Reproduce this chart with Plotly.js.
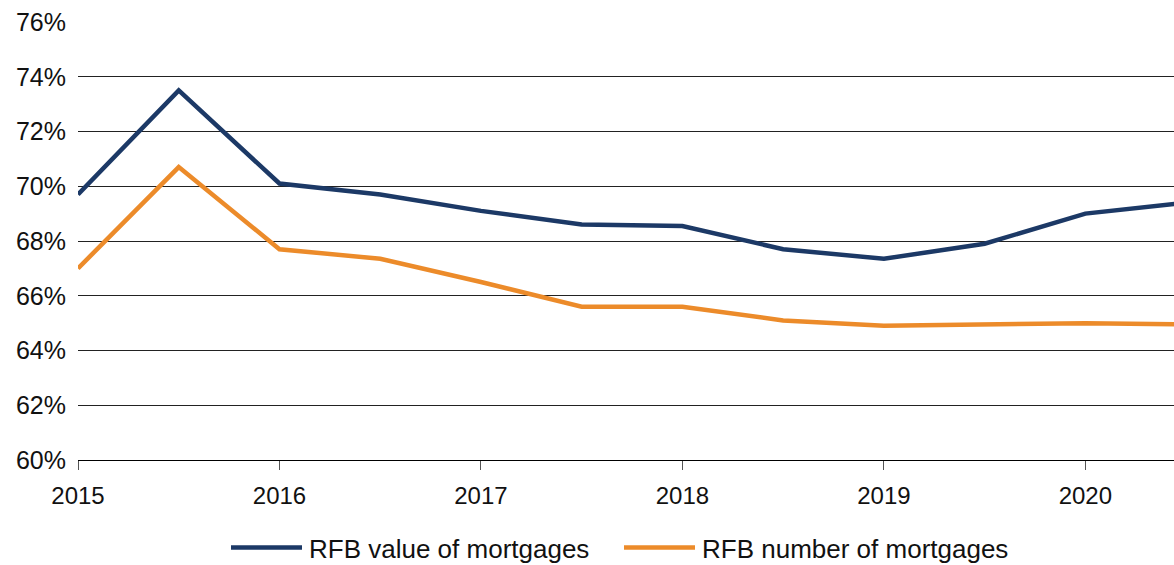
<!DOCTYPE html>
<html>
<head>
<meta charset="utf-8">
<script src="https://cdn.plot.ly/plotly-3.0.1.min.js"></script>
<style>
  html, body { margin: 0; padding: 0; background: #fff; }
  #chart { width: 1174px; height: 565px; }
</style>
</head>
<body>
<div id="chart"></div>
<script>
// Half-yearly observations (decimal years)
const periods = [2015.0, 2015.5, 2016.0, 2016.5, 2017.0, 2017.5, 2018.0, 2018.5, 2019.0, 2019.5, 2020.0, 2020.5];
// Ring-fenced bank share, percent
const valueOfMortgages  = [69.7, 73.5, 70.1, 69.7, 69.1, 68.6, 68.55, 67.7, 67.35, 67.9, 69.0, 69.4];
const numberOfMortgages = [67.0, 70.7, 67.7, 67.35, 66.5, 65.6, 65.6, 65.1, 64.9, 64.93, 65.0, 64.95];
const yearTicks = [2015, 2016, 2017, 2018, 2019, 2020];
const yearLabels = ['2015', '2016', '2017', '2018', '2019', '2020'];
const pctTicks = [60, 62, 64, 66, 68, 70, 72, 74, 76];
const pctLabels = ['60%', '62%', '64%', '66%', '68%', '70%', '72%', '74%', '76%'];
const seriesNames = ['RFB value of mortgages', 'RFB number of mortgages'];

const FONT = 'Liberation Sans, Arial, Helvetica, sans-serif';

const traces = [
  {
    x: periods, y: valueOfMortgages, name: seriesNames[0],
    type: 'scatter', mode: 'lines',
    line: { color: '#1C3966', width: 4.5 },
    cliponaxis: true
  },
  {
    x: periods, y: numberOfMortgages, name: seriesNames[1],
    type: 'scatter', mode: 'lines',
    line: { color: '#EC8B2A', width: 4.5 },
    cliponaxis: true
  }
];

const layout = {
  width: 1174, height: 565,
  margin: { l: 78, r: 0, t: 22, b: 105 },
  paper_bgcolor: '#fff', plot_bgcolor: '#fff',
  font: { family: FONT, size: 24, color: '#111' },
  showlegend: true,
  legend: {
    orientation: 'h',
    xref: 'container', x: 229 / 1174, xanchor: 'left',
    yref: 'container', y: 0.031, yanchor: 'middle',
    font: { family: FONT, size: 26, color: '#111' },
    itemwidth: 70, entrywidth: 308, traceorder: 'normal',
    bgcolor: 'rgba(0,0,0,0)'
  },
  xaxis: {
    range: [2015, 2020.44],
    tickmode: 'array', tickvals: yearTicks, ticktext: yearLabels,
    showgrid: false, zeroline: false,
    showline: true, linecolor: '#000', linewidth: 1,
    ticks: 'outside', ticklen: 9, tickcolor: '#555', tickwidth: 1,
    ticklabelstandoff: 5,
    tickfont: { family: FONT, size: 24, color: '#111' },
    fixedrange: true
  },
  yaxis: {
    range: [60, 76],
    tickmode: 'array', tickvals: pctTicks, ticktext: pctLabels,
    showgrid: true, gridcolor: '#222', gridwidth: 1,
    zeroline: false, showline: false, ticks: '',
    ticklabelstandoff: 11,
    tickfont: { family: FONT, size: 25, color: '#111' },
    fixedrange: true
  }
};

Plotly.newPlot('chart', traces, layout, { staticPlot: true, displayModeBar: false }).then(function (gd) {
  // lengthen legend line samples to match the reference
  gd.querySelectorAll('.legend .legendlines path').forEach(function (p) {
    p.setAttribute('d', 'M2,0h71');
  });
});
</script>
</body>
</html>
